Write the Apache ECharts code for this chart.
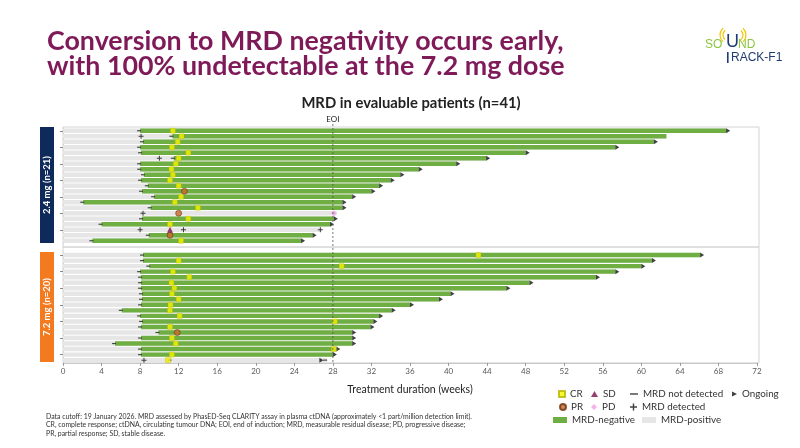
<!DOCTYPE html>
<html><head><meta charset="utf-8">
<script src="https://cdn.jsdelivr.net/npm/echarts@6/dist/echarts.min.js"></script>
<style>html,body{margin:0;padding:0;background:#fff}#c{width:800px;height:448px}</style>
</head><body><div id="c"></div>
<script>
// ---------------- DATA ----------------
const lowPatients = ['L01','L02','L03','L04','L05','L06','L07','L08','L09','L10','L11','L12','L13','L14','L15','L16','L17','L18','L19','L20','L21'];
const lowNegStart = [8.0, 11.35, 8.3, 8.0, 8.1, 11.5, 8.0, 8.0, 8.4, 8.1, 8.8, 8.2, 9.45, 2.1, 9.1, null, 8.2, 4.0, null, 8.9, 3.05];
const lowEnd      = [68.8, 62.6, 61.3, 57.3, 48.0, 43.9, 40.8, 36.9, 35.0, 34.0, 32.8, 32.0, 30.0, 29.0, 29.0, 28.4, 28.1, 27.7, 26.8, 25.9, 24.7];
const lowOngoing  = [1,0,1,1,1,1,1,1,1,1,1,1,1,1,1,0,1,1,0,1,1];
const lowCR       = [11.4, 12.3, 11.9, 11.3, 13.0, 12.0, 11.7, 11.25, 11.4, 11.1, 12.0, null, 12.25, 11.6, 14.0, null, 13.0, 11.1, null, null, 12.25];
const lowPR       = [[11, 12.6], [15, 12.0], [19, 11.1]];
const lowSD       = [[18, 11.1]];
const lowPD       = [[15, 28.1]];
const lowDetected = [[1, 8.1], [5, 10.0], [15, 8.3], [18, 8.0], [18, 12.5], [18, 26.7]];

const highPatients = ['H01','H02','H03','H04','H05','H06','H07','H08','H09','H10','H11','H12','H13','H14','H15','H16','H17','H18','H19','H20'];
const highNegStart = [8.3, 8.3, 8.95, 8.0, 8.1, 8.1, 8.1, 8.2, 8.2, 8.1, 6.1, 8.0, 8.2, 8.1, 9.9, 8.1, 5.4, 8.1, 8.1, null];
const highEnd      = [66.1, 61.1, 60.0, 57.3, 55.3, 48.4, 46.0, 40.2, 39.0, 36.0, 34.1, 32.8, 32.2, 31.9, 30.0, 30.0, 30.0, 28.35, 28.0, 27.4];
const highOngoing  = [1,1,1,1,1,1,1,1,1,1,1,1,1,1,1,1,1,1,1,0];
const highCR       = [43.1, 12.0, 28.9, 11.4, 13.1, 11.25, 11.55, 11.3, 12.0, 11.15, 11.1, 12.1, 28.2, 11.1, null, 11.3, 11.7, 28.1, 11.3, 10.9];
const highPR       = [[14, 11.85]];
const highDetected = [[19, 8.4]];
const highNotDetectedExtra = [[19, 11.15], [19, 27.3]];
const highOngoingExtra = [[19, 26.6]];

const eoiWeek = 28;
const xTicks = {min: 0, max: 72, interval: 4};

const titleLines = ['Conversion to MRD negativity occurs early,', 'with 100% undetectable at the 7.2 mg dose'];
const chartTitle = 'MRD in evaluable patients (n=41)';
const panelLabels = ['2.4 mg (n=21)', '7.2 mg (n=20)'];
const xName = 'Treatment duration (weeks)';
const footnote = [
  'Data cutoff: 19 January 2026. MRD assessed by PhasED-Seq CLARITY assay in plasma ctDNA (approximately <1 part/million detection limit).',
  'CR, complete response; ctDNA, circulating tumour DNA; EOI, end of induction; MRD, measurable residual disease; PD, progressive disease;',
  'PR, partial response; SD, stable disease.'
];

// ---------------- STYLE ----------------
const FONT = 'Lato';
const GREEN = '#6fae43', GREY = '#e6e6e6';
const CR_C = '#f5f500', PR_C = '#c8692c', SD_C = '#7b1448', PD_C = '#f2a0e6';
const PLUS = 'path://M4,0H6V4H10V6H6V10H4V6H0V4H4Z';
const ARROW = 'path://M0,0L10,5L0,10Z';
const G = [
  {left: 63, right: 43, top: 128, height: 115.5},
  {left: 63, right: 43, top: 252.3, height: 110.6}
];

function pairs(arr) { const o = []; arr.forEach((v, i) => { if (v != null) o.push([v, i]); }); return o; }
function flip(arr) { return arr.map(p => [p[1], p[0]]); }

function barItem(color) {
  return function (params, api) {
    const row = api.value(0), s = api.value(1), e = api.value(2);
    const p0 = api.coord([s, row]), p1 = api.coord([e, row]);
    const h = api.size([0, 1])[1] * 0.8;
    return {type: 'rect', shape: {x: p0[0], y: p0[1] - h / 2, width: p1[0] - p0[0], height: h}, style: {fill: color}};
  };
}

function panelSeries(idx, negStart, end, ongoing, cr, pr, sd, pd, detected, ndExtra, ongExtra) {
  const greyData = end.map((e, i) => [i, 0, e]);
  const greenData = [];
  negStart.forEach((s, i) => { if (s != null) greenData.push([i, s, end[i]]); });
  const ongData = [];
  ongoing.forEach((f, i) => { if (f) ongData.push([end[i], i]); });
  (ongExtra || []).forEach(p => ongData.push([p[1], p[0]]));
  const ndData = pairs(negStart).concat(flip(ndExtra || []));
  const ax = {xAxisIndex: idx, yAxisIndex: idx};
  const sc = (name, data, symbol, size, color, extra) => Object.assign({
    type: 'scatter', name, data, symbol, symbolSize: size, ...ax, z: 5,
    itemStyle: {color}, silent: true
  }, extra || {});
  return [
    {type: 'custom', name: 'MRD-positive', renderItem: barItem(GREY), data: greyData, encode: {x: [1, 2], y: 0}, ...ax, z: 1, silent: true, itemStyle: {color: GREY}},
    {type: 'custom', name: 'MRD-negative', renderItem: barItem(GREEN), data: greenData, encode: {x: [1, 2], y: 0}, ...ax, z: 2, silent: true, itemStyle: {color: GREEN}},
    sc('MRD not detected', ndData, 'rect', [4, 1.2], '#222', {symbolOffset: [-1, 0]}),
    sc('MRD detected', flip(detected), PLUS, 5, '#111'),
    sc('Ongoing', ongData, ARROW, [4, 5], '#111', {symbolOffset: [2, 0]}),
    sc('CR', pairs(cr), 'rect', 5, CR_C, {itemStyle: {color: CR_C, borderColor: '#b5b500', borderWidth: 0.5}, z: 6}),
    sc('PR', flip(pr), 'circle', 6, PR_C, {itemStyle: {color: PR_C, borderColor: '#6b2f0a', borderWidth: 0.7}, z: 6}),
    sc('SD', flip(sd || []), 'triangle', 6, SD_C, {z: 6}),
    sc('PD', flip(pd || []), 'diamond', 6, PD_C, {z: 6})
  ];
}

const chart = echarts.init(document.getElementById('c'), null, {renderer: 'canvas'});

const xAxisBase = {type: 'value', min: xTicks.min, max: xTicks.max, interval: xTicks.interval, splitLine: {show: false}};
const yAxisBase = {
  type: 'category', inverse: true,
  axisLine: {show: true, lineStyle: {color: '#d0d0d0'}},
  axisTick: {show: true, alignWithLabel: true, length: 3, lineStyle: {color: '#888'}},
  axisLabel: {show: false}
};

const legendItem = (name, left, top, icon, w, h, color) => ({
  left, top, padding: 0, itemWidth: w, itemHeight: h, selectedMode: false,
  textStyle: {fontFamily: FONT, fontSize: 9.8, color: '#333', padding: [0, 0, 0, 0]},
  data: [{name, icon, itemStyle: {color}}]
});

const option = {
  animation: false,
  textStyle: {fontFamily: FONT},
  grid: G,
  xAxis: [
    Object.assign({}, xAxisBase, {gridIndex: 0, axisLine: {show: false}, axisTick: {show: false}, axisLabel: {show: false}}),
    Object.assign({}, xAxisBase, {
      gridIndex: 1, name: xName, nameLocation: 'middle', nameGap: 21,
      nameTextStyle: {fontFamily: FONT, fontSize: 10.5, color: '#222'},
      axisLine: {show: true, lineStyle: {color: '#c8c8c8'}},
      axisTick: {show: true, length: 3, lineStyle: {color: '#999'}},
      axisLabel: {fontFamily: FONT, fontSize: 8, color: '#595959', margin: 5}
    })
  ],
  yAxis: [
    Object.assign({}, yAxisBase, {gridIndex: 0, data: lowPatients}),
    Object.assign({}, yAxisBase, {gridIndex: 1, data: highPatients})
  ],
  legend: [
    legendItem('CR', 558, 389, 'rect', 6, 6, CR_C),
    legendItem('SD', 591, 389, 'triangle', 7, 6, SD_C),
    legendItem('MRD not detected', 630, 389, 'rect', 8, 1.5, '#222'),
    legendItem('Ongoing', 732, 389, ARROW, 5, 6, '#111'),
    legendItem('PR', 559, 402, 'circle', 6, 6, PR_C),
    legendItem('PD', 591, 402, 'diamond', 6, 6, PD_C),
    legendItem('MRD detected', 630, 402, PLUS, 7, 7, '#111'),
    legendItem('MRD-negative', 553, 415, 'rect', 14, 6, GREEN),
    legendItem('MRD-positive', 642, 415, 'rect', 14, 6, GREY)
  ],
  series: [].concat(
    panelSeries(0, lowNegStart, lowEnd, lowOngoing, lowCR, lowPR, lowSD, lowPD, lowDetected, [], []),
    panelSeries(1, highNegStart, highEnd, highOngoing, highCR, highPR, [], [], highDetected, highNotDetectedExtra, highOngoingExtra)
  )
};
chart.setOption(option);

// ---------- annotations using the chart's own scale ----------
const xEoi = chart.convertToPixel({xAxisIndex: 0}, eoiWeek);
const x0 = G[0].left, x1 = 800 - G[0].right;
const boxTop = 127, boxMid = 247, boxBot = G[1].top + G[1].height;
const graphic = [
  {type: 'text', left: 47, top: 28, style: {text: titleLines[0], font: 'bold 26.8px Lato', fill: '#7f1a59'}},
  {type: 'text', left: 47, top: 53, style: {text: titleLines[1], font: 'bold 26.8px Lato', fill: '#7f1a59'}},
  {type: 'text', x: 411, y: 103, style: {text: chartTitle, font: 'bold 14.8px Lato', fill: '#222', align: 'center', verticalAlign: 'middle'}},
  // panel frames
  {type: 'rect', shape: {x: x0, y: boxTop, width: x1 - x0 + 2, height: boxMid - boxTop}, style: {fill: 'none', stroke: '#d4d4d4', lineWidth: 1}, z: -1},
  {type: 'rect', shape: {x: x0, y: boxMid, width: x1 - x0 + 2, height: boxBot - boxMid}, style: {fill: 'none', stroke: '#d4d4d4', lineWidth: 1}, z: -1},
  // EOI
  {type: 'line', shape: {x1: xEoi, y1: 124, x2: xEoi, y2: boxBot}, style: {stroke: '#555', lineWidth: 0.8, lineDash: [2, 2]}, z: 100},
  {type: 'text', x: xEoi, y: 119, style: {text: 'EOI', font: '8px Lato', fill: '#222', align: 'center', verticalAlign: 'middle'}, z: 100},
  // dose boxes
  {type: 'rect', shape: {x: 40, y: 127, width: 14, height: 116}, style: {fill: '#0e2a5a'}},
  {type: 'text', x: 47, y: 185, rotation: Math.PI / 2, style: {text: panelLabels[0], font: 'bold 9.5px Lato', fill: '#fff', align: 'center', verticalAlign: 'middle'}},
  {type: 'rect', shape: {x: 40, y: 252, width: 14, height: 110}, style: {fill: '#f47a20'}},
  {type: 'text', x: 47, y: 307, rotation: Math.PI / 2, style: {text: panelLabels[1], font: 'bold 9.5px Lato', fill: '#fff', align: 'center', verticalAlign: 'middle'}},
  // footnote
  {type: 'text', left: 46, top: 412, style: {text: footnote.join('\n'), font: '6.9px Lato', fill: '#333', lineHeight: 8.6}},
  // logo
  {type: 'arc', shape: {cx: 729, cy: 35, r: 6, startAngle: 2.3, endAngle: 4.0}, style: {stroke: '#f2c500', lineWidth: 1.2, fill: 'none'}},
  {type: 'arc', shape: {cx: 729, cy: 35, r: 9, startAngle: 2.3, endAngle: 4.0}, style: {stroke: '#f2c500', lineWidth: 1.2, fill: 'none'}},
  {type: 'arc', shape: {cx: 737, cy: 35, r: 6, startAngle: -0.85, endAngle: 0.85}, style: {stroke: '#f2c500', lineWidth: 1.2, fill: 'none'}},
  {type: 'arc', shape: {cx: 737, cy: 35, r: 9, startAngle: -0.85, endAngle: 0.85}, style: {stroke: '#f2c500', lineWidth: 1.2, fill: 'none'}},
  {type: 'text', left: 705, top: 39, style: {text: 'SO', font: '12px "Liberation Sans Narrow", "Liberation Sans"', fill: '#8cc63f'}},
  {type: 'text', left: 726, top: 33, style: {text: 'U', font: '18px "Liberation Sans Narrow", "Liberation Sans"', fill: '#1f3b73'}},
  {type: 'text', left: 738, top: 39, style: {text: 'ND', font: '12px "Liberation Sans Narrow", "Liberation Sans"', fill: '#8cc63f'}},
  {type: 'text', left: 731, top: 52, style: {text: 'RACK-F1', font: '12px "Liberation Sans Narrow", "Liberation Sans"', fill: '#1f3b73'}},
  {type: 'rect', shape: {x: 727, y: 52, width: 1.6, height: 11}, style: {fill: '#1f3b73'}}
];
chart.setOption({graphic});
</script>
</body></html>
